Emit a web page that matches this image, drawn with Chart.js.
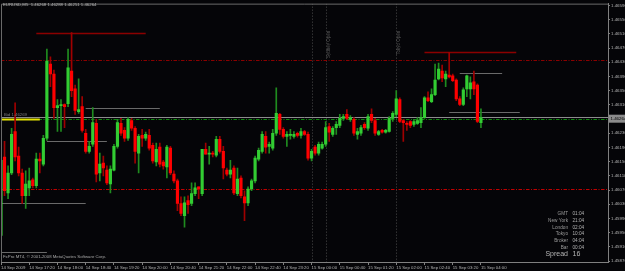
<!DOCTYPE html>
<html>
<head>
<meta charset="utf-8">
<script src="https://cdn.jsdelivr.net/npm/chart.js@4.4.1/dist/chart.umd.min.js"></script>
<style>
  html, body { margin: 0; padding: 0; background: #050508; }
  #chart { display: block; background: #050508; }
</style>
</head>
<body>
<canvas id="chart" width="625" height="271"></canvas>
<script>
// EURUSD M5, 14 Sep 2009 16:40 -> 15 Sep 04:00 (broker time)
var timeTicks = ['14 Sep 2009', '14 Sep 17:20', '14 Sep 18:00', '14 Sep 18:40', '14 Sep 19:20', '14 Sep 20:00',
    '14 Sep 20:40', '14 Sep 21:20', '14 Sep 22:00', '14 Sep 22:40', '14 Sep 23:20', '15 Sep 00:00',
    '15 Sep 00:40', '15 Sep 01:20', '15 Sep 02:00', '15 Sep 02:40', '15 Sep 03:20', '15 Sep 04:00'];
var barsPerTick = 8;
var totalSlots = 173;

var yTickValues = [1.45870, 1.45910, 1.45950, 1.45990, 1.46030, 1.46070, 1.46110, 1.46150, 1.46190, 1.46230,
    1.46270, 1.46310, 1.46350, 1.46390, 1.46430, 1.46470, 1.46510, 1.46550, 1.46590];
var yTickLabels = ['1.45870', '1.45910', '1.45950', '1.45990', '1.46030', '1.46070', '1.46110', '1.46150', '1.46190', '1.46230',
    '1.46270', '1.46310', '1.46350', '1.46390', '1.46430', '1.46470', '1.46510', '1.46550', '1.46590'];

var opens = [1.45942, 1.46163, 1.46062, 1.46118, 1.46235, 1.46166, 1.46118, 1.46054, 1.46076, 1.46099,
    1.46082, 1.46157, 1.46143, 1.46216, 1.46425, 1.46397, 1.46302, 1.46308, 1.46311, 1.46313,
    1.46405, 1.46355, 1.46291, 1.46305, 1.46230, 1.46179, 1.46199, 1.46258, 1.46118, 1.46146,
    1.46126, 1.46087, 1.46126, 1.46193, 1.46258, 1.46238, 1.46216, 1.46266, 1.46244, 1.46174,
    1.46224, 1.46216, 1.46224, 1.46196, 1.46149, 1.46191, 1.46149, 1.46135, 1.46188, 1.46115,
    1.46096, 1.46032, 1.45998, 1.46040, 1.46032, 1.46060, 1.46079, 1.46060, 1.46185, 1.46171,
    1.46174, 1.46168, 1.46213, 1.46179, 1.46126, 1.46115, 1.46132, 1.46060, 1.46104, 1.46051,
    1.46034, 1.46073, 1.46096, 1.46157, 1.46179, 1.46221, 1.46193, 1.46188, 1.46230, 1.46283,
    1.46241, 1.46221, 1.46224, 1.46221, 1.46230, 1.46224, 1.46235, 1.46227, 1.46160, 1.46191,
    1.46174, 1.46188, 1.46199, 1.46249, 1.46227, 1.46246, 1.46252, 1.46272, 1.46283, 1.46269,
    1.46269, 1.46227, 1.46230, 1.46255, 1.46244, 1.46283, 1.46266, 1.46227, 1.46238, 1.46233,
    1.46235, 1.46272, 1.46283, 1.46325, 1.46266, 1.46258, 1.46263, 1.46255, 1.46258, 1.46260,
    1.46274, 1.46330, 1.46319, 1.46339, 1.46383, 1.46405, 1.46383, 1.46394, 1.46392, 1.46380,
    1.46327, 1.46311, 1.46355, 1.46355, 1.46375, 1.46366, 1.46260];
var highs = [1.46160, 1.46207, 1.46138, 1.46244, 1.46316, 1.46191, 1.46129, 1.46124, 1.46132, 1.46104,
    1.46174, 1.46174, 1.46224, 1.46467, 1.46445, 1.46408, 1.46325, 1.46325, 1.46313, 1.46467,
    1.46514, 1.46366, 1.46383, 1.46333, 1.46241, 1.46207, 1.46302, 1.46269, 1.46174, 1.46166,
    1.46138, 1.46138, 1.46199, 1.46269, 1.46272, 1.46246, 1.46274, 1.46272, 1.46249, 1.46227,
    1.46241, 1.46233, 1.46241, 1.46202, 1.46202, 1.46202, 1.46154, 1.46196, 1.46193, 1.46124,
    1.46101, 1.46051, 1.46051, 1.46054, 1.46090, 1.46090, 1.46079, 1.46185, 1.46202, 1.46193,
    1.46179, 1.46221, 1.46221, 1.46193, 1.46132, 1.46154, 1.46138, 1.46132, 1.46110, 1.46068,
    1.46079, 1.46101, 1.46166, 1.46188, 1.46235, 1.46235, 1.46205, 1.46241, 1.46358, 1.46286,
    1.46246, 1.46235, 1.46241, 1.46235, 1.46233, 1.46244, 1.46238, 1.46233, 1.46185, 1.46196,
    1.46205, 1.46205, 1.46263, 1.46258, 1.46249, 1.46263, 1.46283, 1.46283, 1.46297, 1.46280,
    1.46274, 1.46244, 1.46252, 1.46260, 1.46283, 1.46299, 1.46272, 1.46238, 1.46241, 1.46241,
    1.46277, 1.46291, 1.46350, 1.46330, 1.46269, 1.46263, 1.46266, 1.46269, 1.46274, 1.46302,
    1.46333, 1.46347, 1.46355, 1.46425, 1.46428, 1.46422, 1.46405, 1.46458, 1.46397, 1.46383,
    1.46333, 1.46358, 1.46394, 1.46389, 1.46405, 1.46369, 1.46299];
var lows = [1.45937, 1.46054, 1.46046, 1.46113, 1.46152, 1.46110, 1.46032, 1.46018, 1.46054, 1.46076,
    1.46076, 1.46118, 1.46138, 1.46210, 1.46361, 1.46272, 1.46235, 1.46235, 1.46246, 1.46305,
    1.46333, 1.46283, 1.46286, 1.46233, 1.46174, 1.46174, 1.46193, 1.46093, 1.46096, 1.46110,
    1.46085, 1.46062, 1.46124, 1.46188, 1.46224, 1.46207, 1.46210, 1.46238, 1.46146, 1.46118,
    1.46193, 1.46210, 1.46182, 1.46146, 1.46138, 1.46135, 1.46129, 1.46104, 1.46113, 1.46090,
    1.46012, 1.45998, 1.45965, 1.46004, 1.46026, 1.46054, 1.46046, 1.46054, 1.46171, 1.46143,
    1.46163, 1.46163, 1.46174, 1.46101, 1.46110, 1.46104, 1.46057, 1.46054, 1.46048, 1.45984,
    1.46026, 1.46068, 1.46090, 1.46152, 1.46174, 1.46174, 1.46174, 1.46182, 1.46224, 1.46227,
    1.46216, 1.46193, 1.46213, 1.46216, 1.46219, 1.46216, 1.46224, 1.46154, 1.46152, 1.46168,
    1.46168, 1.46185, 1.46193, 1.46207, 1.46221, 1.46227, 1.46246, 1.46266, 1.46269, 1.46263,
    1.46224, 1.46213, 1.46224, 1.46241, 1.46238, 1.46260, 1.46224, 1.46224, 1.46230, 1.46230,
    1.46233, 1.46263, 1.46277, 1.46260, 1.46207, 1.46238, 1.46246, 1.46249, 1.46255, 1.46246,
    1.46272, 1.46319, 1.46316, 1.46336, 1.46380, 1.46375, 1.46361, 1.46386, 1.46375, 1.46322,
    1.46308, 1.46308, 1.46333, 1.46327, 1.46339, 1.46260, 1.46246];
var closes = [1.46154, 1.46068, 1.46118, 1.46227, 1.46163, 1.46118, 1.46054, 1.46087, 1.46096, 1.46082,
    1.46157, 1.46152, 1.46216, 1.46433, 1.46397, 1.46302, 1.46308, 1.46311, 1.46305, 1.46414,
    1.46350, 1.46294, 1.46297, 1.46238, 1.46179, 1.46193, 1.46260, 1.46115, 1.46143, 1.46132,
    1.46090, 1.46129, 1.46193, 1.46260, 1.46230, 1.46216, 1.46269, 1.46244, 1.46179, 1.46221,
    1.46216, 1.46227, 1.46188, 1.46152, 1.46185, 1.46143, 1.46138, 1.46191, 1.46118, 1.46096,
    1.46032, 1.46004, 1.46034, 1.46029, 1.46060, 1.46076, 1.46073, 1.46185, 1.46171, 1.46174,
    1.46171, 1.46213, 1.46179, 1.46132, 1.46115, 1.46126, 1.46062, 1.46101, 1.46054, 1.46034,
    1.46073, 1.46096, 1.46160, 1.46182, 1.46227, 1.46191, 1.46199, 1.46230, 1.46286, 1.46241,
    1.46221, 1.46227, 1.46227, 1.46227, 1.46224, 1.46235, 1.46227, 1.46160, 1.46179, 1.46174,
    1.46199, 1.46199, 1.46246, 1.46233, 1.46244, 1.46255, 1.46272, 1.46277, 1.46272, 1.46274,
    1.46230, 1.46235, 1.46246, 1.46246, 1.46277, 1.46266, 1.46230, 1.46235, 1.46233, 1.46238,
    1.46272, 1.46286, 1.46327, 1.46263, 1.46260, 1.46255, 1.46252, 1.46263, 1.46266, 1.46274,
    1.46330, 1.46322, 1.46339, 1.46380, 1.46411, 1.46386, 1.46397, 1.46389, 1.46378, 1.46327,
    1.46311, 1.46352, 1.46392, 1.46372, 1.46355, 1.46263, 1.46274];

// objects on the chart: [price, fromBar, toBar]
var greySegments = [[1.46302, 24, 45], [1.46209, 13, 30], [1.46034, 0, 24], [1.45895, 0, 13],
    [1.46399, 130, 142], [1.46290, 127, 147]];
var highSegments = [[1.46513, 10, 41], [1.46459, 120, 146]];
var yellowSegment = [1.46269, 0, 11];
var upperLevel = 1.46437;
var lowerLevel = 1.46073;
var greenLevel = 1.46271;
var bidLine = 1.46276;
var bidText = '1.46264';
var daySeparators = [88];
var sessionBars = [92, 112];
var sessionNames = ['Sydney Open', 'Tokyo Open'];

var infoLabels = ['GMT', 'New York', 'London', 'Tokyo', 'Broker', 'Bar'];
var infoValues = ['01:04', '21:04', '02:04', '10:04', '04:04', '00:04'];
var spreadValue = '16';

var headerText = 'EURUSD,M5  1.46268 1.46288 1.46251 1.46264';
var footerText = 'FxPro MT4, \u00a9 2001-2008 MetaQuotes Software Corp.';

// build what Chart.js needs
var categories = [];
for (var i = 0; i < totalSlots; i++) {
    var t = (i % barsPerTick === 0) ? timeTicks[i / barsPerTick] : '';
    categories.push(t || '');
}
var isUp = opens.map(function (o, i) { return closes[i] >= o; });
var bodies = opens.map(function (o, i) { return [Math.min(o, closes[i]), Math.max(o, closes[i])]; });
var wicks = lows.map(function (l, i) { return [l, highs[i]]; });

var FONT = 'Liberation Sans';

var overlay = {
    id: 'mt4overlay',
    beforeDatasetsDraw: function (chart) {
        var ctx = chart.ctx, a = chart.chartArea, x = chart.scales.x, y = chart.scales.y;
        ctx.save();
        ctx.beginPath();
        ctx.rect(a.left, a.top, a.right - a.left, a.bottom - a.top);
        ctx.clip();

        function hline(price, x0, x1, color, width, dash) {
            var py = Math.round(y.getPixelForValue(price)) + 0.5;
            ctx.strokeStyle = color;
            ctx.lineWidth = width;
            ctx.setLineDash(dash || []);
            ctx.beginPath();
            ctx.moveTo(x0, py);
            ctx.lineTo(x1, py);
            ctx.stroke();
        }
        function vline(bar, color) {
            var px = Math.round(x.getPixelForValue(bar)) + 0.5;
            ctx.strokeStyle = color;
            ctx.lineWidth = 1;
            ctx.setLineDash([1, 2]);
            ctx.beginPath();
            ctx.moveTo(px, a.top);
            ctx.lineTo(px, a.bottom);
            ctx.stroke();
        }

        daySeparators.forEach(function (b) { vline(b, '#4a4a4a'); });
        sessionBars.forEach(function (b) { vline(b, '#4a4a4a'); });

        hline(upperLevel, a.left, a.right, '#8a0000', 1, [3.5, 1.5, 1, 1.5]);
        hline(lowerLevel, a.left, a.right, '#c00000', 1, [3.5, 1.5, 1, 1.5]);
        hline(greenLevel, a.left, a.right, '#0c8a0c', 1, [3.5, 1.5, 1, 1.5]);
        hline(bidLine, a.left, a.right, '#8c8c8c', 1);

        greySegments.forEach(function (s) {
            hline(s[0], x.getPixelForValue(s[1]), x.getPixelForValue(s[2]), '#6a6a6a', 1);
        });
        highSegments.forEach(function (s) {
            hline(s[0], x.getPixelForValue(s[1]), x.getPixelForValue(s[2]), '#8b0000', 1.3);
        });
        hline(yellowSegment[0], a.left, x.getPixelForValue(yellowSegment[2]), '#e6e600', 2);

        ctx.restore();
    },
    afterDraw: function (chart) {
        var ctx = chart.ctx, a = chart.chartArea, x = chart.scales.x, y = chart.scales.y;
        ctx.save();

        // frame
        ctx.strokeStyle = '#6a6a6a';
        ctx.lineWidth = 1;
        ctx.setLineDash([]);
        ctx.beginPath();
        ctx.moveTo(a.left + 0.5, a.bottom);
        ctx.lineTo(a.left + 0.5, a.top + 0.5);
        ctx.lineTo(a.right, a.top + 0.5);
        ctx.stroke();

        ctx.textBaseline = 'middle';

        // header and footer
        ctx.fillStyle = '#b8b8b8';
        ctx.font = '4.3px "' + FONT + '"';
        ctx.textAlign = 'left';
        ctx.fillText(headerText, 3, 5);
        ctx.fillStyle = '#a8a8a8';
        ctx.fillText(footerText, 3, 257);

        // small tag above the yellow line
        ctx.fillStyle = '#7a7a7a';
        ctx.fillText('Bid 1.46269', 4, y.getPixelForValue(yellowSegment[0]) - 4.5);

        // session names, rotated
        ctx.fillStyle = '#5a5a5a';
        ctx.font = '4.5px "' + FONT + '"';
        sessionBars.forEach(function (b, i) {
            var px = x.getPixelForValue(b) + 3;
            ctx.save();
            ctx.translate(px, a.top + 27);
            ctx.rotate(-Math.PI / 2);
            ctx.textAlign = 'right';
            ctx.fillText(sessionNames[i], 0, 0);
            ctx.restore();
        });

        // info panel
        ctx.font = '4.7px "' + FONT + '"';
        infoLabels.forEach(function (lab, i) {
            var py = 214 + i * 6.7;
            ctx.fillStyle = '#9a9a9a';
            ctx.textAlign = 'right';
            ctx.fillText(lab, 568, py);
            ctx.fillStyle = '#b0b0b0';
            ctx.textAlign = 'left';
            ctx.fillText(infoValues[i], 572.5, py);
        });
        ctx.font = '7px "' + FONT + '"';
        ctx.fillStyle = '#b4b4b4';
        ctx.textAlign = 'right';
        ctx.fillText('Spread', 568, 254.5);
        ctx.textAlign = 'left';
        ctx.fillText(spreadValue, 572.5, 254.5);

        // current price box on the axis
        var by = y.getPixelForValue(greenLevel);
        ctx.fillStyle = '#8c8c8c';
        ctx.fillRect(a.right + 1, by - 4, 17, 8);
        ctx.fillStyle = '#000000';
        ctx.font = '4.4px "' + FONT + '"';
        ctx.textAlign = 'left';
        ctx.fillText(bidText, a.right + 2.5, by);

        ctx.restore();
    }
};

var ctx = document.getElementById('chart').getContext('2d');
var chart = new Chart(ctx, {
    type: 'bar',
    data: {
        labels: categories,
        datasets: [{
            data: bodies,
            backgroundColor: isUp.map(function (u) { return u ? '#32cd32' : '#ff0000'; }),
            barThickness: 2.5,
            minBarLength: 1,
            grouped: false,
            order: 0
        }, {
            data: wicks,
            backgroundColor: isUp.map(function (u) { return u ? '#1f8c1f' : '#a00000'; }),
            barThickness: 1,
            grouped: false,
            order: 1
        }]
    },
    options: {
        responsive: false,
        animation: false,
        devicePixelRatio: 1,
        layout: { padding: { left: 1, top: 1, right: 0, bottom: 0 } },
        plugins: { legend: { display: false }, tooltip: { enabled: false } },
        scales: {
            x: {
                type: 'category',
                offset: false,
                afterFit: function (s) { s.height = 9; },
                border: { color: '#808080' },
                grid: {
                    offset: false,
                    drawOnChartArea: false,
                    tickLength: 3,
                    color: function (c) { return (c.tick && c.tick.label) ? '#808080' : 'rgba(0,0,0,0)'; }
                },
                ticks: {
                    autoSkip: false, maxRotation: 0, minRotation: 0, align: 'start', padding: 0,
                    color: '#b4b4b4', font: { family: FONT, size: 4.3 }
                }
            },
            y: {
                position: 'right',
                min: 1.458672,
                max: 1.465952,
                afterFit: function (s) { s.width = 17; },
                afterBuildTicks: function (s) { s.ticks = yTickValues.map(function (v) { return { value: v }; }); },
                border: { color: '#808080' },
                grid: { drawOnChartArea: false, tickLength: 2, color: '#808080' },
                ticks: {
                    padding: 1, color: '#b4b4b4', font: { family: FONT, size: 4.4 },
                    callback: function (v, i) { return yTickLabels[i]; }
                }
            }
        }
    },
    plugins: [overlay]
});
</script>
</body>
</html>
